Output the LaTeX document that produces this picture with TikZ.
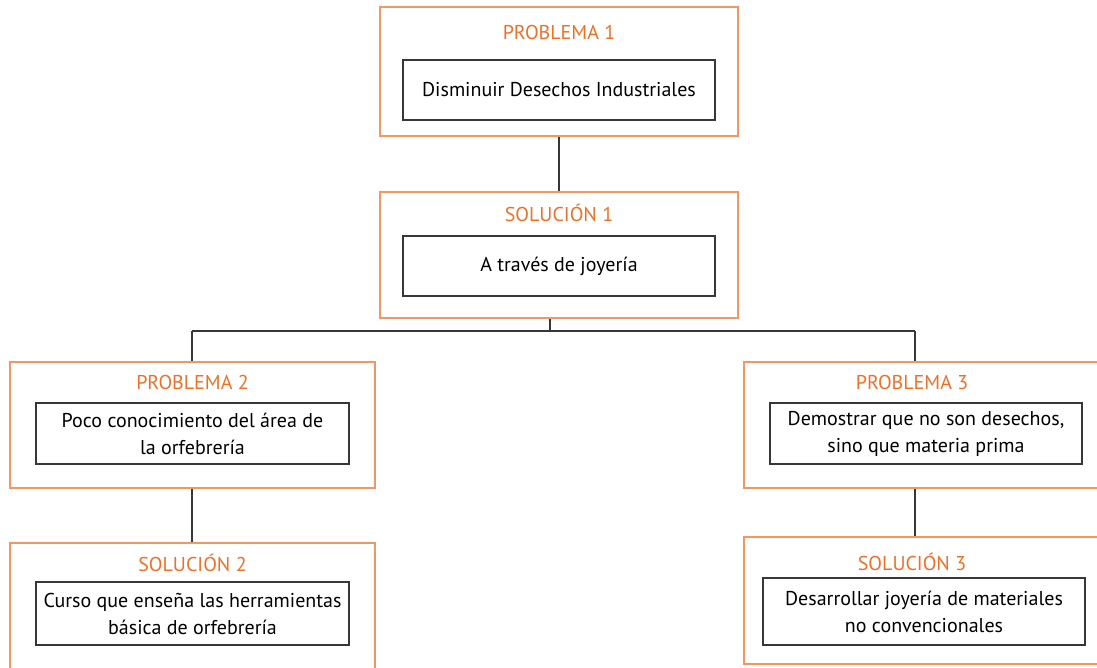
\documentclass[tikz,border=0pt]{standalone}
\usepackage{fontspec}
\setmainfont{PT Sans}
\definecolor{obord}{RGB}{244,150,100}
\definecolor{otitle}{RGB}{238,112,40}
\definecolor{dgray}{RGB}{55,55,55}
\begin{document}
\begin{tikzpicture}[x=1pt,y=-1pt,
  outer/.style={draw=obord,line width=2.2pt,rectangle,inner sep=0pt},
  inner/.style={draw=dgray,line width=1.6pt,rectangle,fill=white,inner sep=0pt,align=center,font=\fontsize{20}{27}\selectfont,text=black},
  ttl/.style={font=\fontsize{20}{24}\selectfont,text=otitle,inner sep=0pt},
  conn/.style={draw=dgray,line width=1.5pt}]
\useasboundingbox (0,0) rectangle (1097,667);
\clip (0,0) rectangle (1097,667);
% Problema 1
\node[outer,minimum width=358pt,minimum height=129pt] (p1) at (559,71.5) {};
\node[ttl] (p1t) at (559,32) {PROBLEMA 1};
\node[inner,minimum width=312pt,minimum height=60pt] (p1i) at (559,90) {Disminuir Desechos Industriales};
% Solucion 1
\node[outer,minimum width=358pt,minimum height=126pt] (s1) at (559,255) {};
\node[ttl] (s1t) at (559,213) {SOLUCIÓN 1};
\node[inner,minimum width=312pt,minimum height=60pt] (s1i) at (559,266) {A través de joyería};
% Problema 2
\node[outer,minimum width=365pt,minimum height=126pt] (p2) at (192.5,425) {};
\node[ttl] (p2t) at (192.5,382) {PROBLEMA 2};
\node[inner,minimum width=313pt,minimum height=61pt] (p2i) at (192.5,433.5) {Poco conocimiento del área de\\la orfebrería};
% Solucion 2
\node[outer,minimum width=365pt,minimum height=147pt] (s2) at (192.5,616.5) {};
\node[ttl] (s2t) at (192.5,563) {SOLUCIÓN 2};
\node[inner,minimum width=313pt,minimum height=63pt] (s2i) at (192.5,613.5) {Curso que enseña las herramientas\\básica de orfebrería};
% Problema 3
\node[outer,minimum width=366pt,minimum height=126pt] (p3) at (927,425) {};
\node[ttl] (p3t) at (912,382) {PROBLEMA 3};
\node[inner,minimum width=312pt,minimum height=61pt] (p3i) at (926,433.5) {Demostrar que no son desechos,\\sino que materia prima};
% Solucion 3
\node[outer,minimum width=366pt,minimum height=127pt] (s3) at (927,600.5) {};
\node[ttl] (s3t) at (912,562) {SOLUCIÓN 3};
\node[inner,minimum width=322pt,minimum height=67pt] (s3i) at (924,611.5) {Desarrollar joyería de materiales\\no convencionales};
% connectors
\coordinate (bus) at (550,331);
\coordinate (busl) at (192,331);
\coordinate (busr) at (915,331);
\draw[conn] (p1.south) -- (s1.north);
\draw[conn] (s1.south -| bus) -- (bus);
\draw[conn] (busl) -- (busr);
\draw[conn] (busl) -- (busl |- p2.north);
\draw[conn] (busr) -- (busr |- p3.north);
\draw[conn] (p2.south -| busl) -- (busl |- s2.north);
\draw[conn] (p3.south -| busr) -- (busr |- s3.north);
\end{tikzpicture}
\end{document}
